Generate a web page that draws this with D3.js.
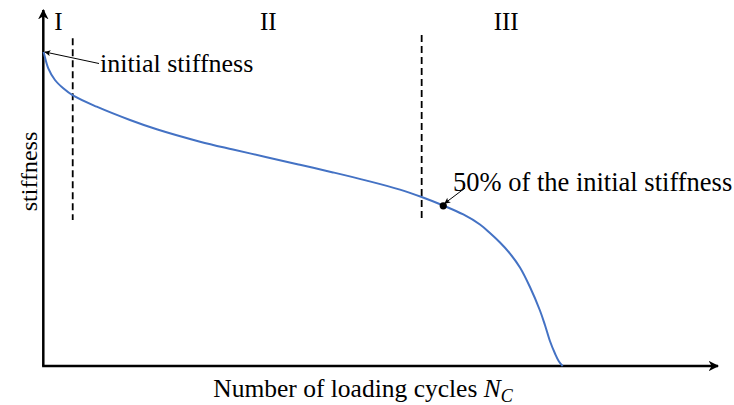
<!DOCTYPE html>
<html>
<head>
<meta charset="utf-8">
<script src="https://cdn.jsdelivr.net/npm/d3@7"></script>
<style>
  html, body { margin: 0; padding: 0; background: #fff; }
  svg { display: block; }
  text { font-family: "Liberation Serif", "DejaVu Serif", serif; fill: #000; }
</style>
</head>
<body>
<svg id="chart" width="734" height="405"></svg>
<script>
// ---- data (normalised cycles %, stiffness in arbitrary units) ----
const cycles = [0.03, 0.10, 0.74, 1.73, 2.96, 4.45, 7.91, 12.85, 16.81, 23.23, 28.12, 33.11, 38.04, 42.94, 47.93, 52.87, 56.08, 59.28, 62.25, 64.72, 66.20, 67.69, 69.17, 70.65, 72.13, 73.61, 74.35, 75.09, 75.84, 76.43, 76.98];
const stiffness = [88.20, 87.78, 83.62, 80.34, 78.01, 75.93, 72.84, 69.10, 66.49, 63.01, 60.81, 58.65, 56.52, 54.38, 52.08, 49.55, 47.47, 45.08, 42.56, 39.75, 37.36, 34.69, 31.60, 27.67, 22.19, 15.59, 11.52, 7.02, 3.51, 1.26, 0];
const phaseBounds = [4.36, 56.08];         // dashed phase boundaries (x)
const phaseBoundTop = [92.05, 93.0];       // top of the dashed lines (y)
const phaseBoundBottom = 41.0;             // bottom of dashed lines (y)
const phaseLabels = ["I", "II", "III"];
const phaseLabelX = [2.25, 33.35, 68.6];
const initialPoint = [0.03, 88.2];
const halfPoint = [59.28, 45.0];
const xTitle = "Number of loading cycles ";
const yTitle = "stiffness";

const svg = d3.select("#chart");
const x = d3.scaleLinear().domain([0, 100]).range([43.3, 718]);
const y = d3.scaleLinear().domain([0, 100]).range([366, 10]);

// markers
const defs = svg.append("defs");
defs.append("marker").attr("id", "axisArrow")
  .attr("viewBox", "0 0 10 10").attr("refX", 9).attr("refY", 5)
  .attr("markerWidth", 4.2).attr("markerHeight", 4.2).attr("markerUnits", "strokeWidth")
  .attr("orient", "auto")
  .append("path").attr("d", "M0,0 L10,5 L0,10 L3,5 Z").attr("fill", "#000");
defs.append("marker").attr("id", "thinArrow")
  .attr("viewBox", "0 0 10 10").attr("refX", 9).attr("refY", 5)
  .attr("markerWidth", 7).attr("markerHeight", 6).attr("markerUnits", "strokeWidth")
  .attr("orient", "auto")
  .append("path").attr("d", "M0,0 L10,5 L0,10 L2.5,5 Z").attr("fill", "#000");

// axes (drawn as arrowed lines)
svg.append("line")
  .attr("x1", x(0)).attr("y1", y(0)).attr("x2", x(0)).attr("y2", y(100))
  .attr("stroke", "#000").attr("stroke-width", 2.5).attr("marker-end", "url(#axisArrow)");
svg.append("line")
  .attr("x1", x(0) - 1.2).attr("y1", y(0)).attr("x2", x(100)).attr("y2", y(0))
  .attr("stroke", "#000").attr("stroke-width", 2.5).attr("marker-end", "url(#axisArrow)");

// phase boundaries
phaseBounds.forEach((b, i) => {
  svg.append("line")
    .attr("x1", x(b)).attr("x2", x(b))
    .attr("y1", y(phaseBoundTop[i])).attr("y2", y(phaseBoundBottom))
    .attr("stroke", "#000").attr("stroke-width", 1.8).attr("stroke-dasharray", "7,4");
});

// phase labels
phaseLabels.forEach((t, i) => {
  svg.append("text").attr("x", x(phaseLabelX[i])).attr("y", 29.5)
    .attr("text-anchor", "middle").attr("font-size", 25).text(t);
});

// curve
const pts = cycles.map((c, i) => [c, stiffness[i]]);
const line = d3.line().x(d => x(d[0])).y(d => y(d[1])).curve(d3.curveCatmullRom.alpha(0.5));
svg.append("path").datum(pts).attr("d", line)
  .attr("fill", "none").attr("stroke", "#4472C4").attr("stroke-width", 2);

// half-stiffness point
svg.append("circle").attr("cx", x(halfPoint[0])).attr("cy", y(halfPoint[1])).attr("r", 3.6).attr("fill", "#000");

// annotations
svg.append("line")
  .attr("x1", 99).attr("y1", 63.5)
  .attr("x2", x(initialPoint[0]) + 1.5).attr("y2", y(initialPoint[1]))
  .attr("stroke", "#000").attr("stroke-width", 1).attr("marker-end", "url(#thinArrow)");
svg.append("text").attr("x", 100).attr("y", 72).attr("font-size", 26).text("initial stiffness");

svg.append("line")
  .attr("x1", 465).attr("y1", 188)
  .attr("x2", x(halfPoint[0]) + 1.5).attr("y2", y(halfPoint[1]) - 2.5)
  .attr("stroke", "#000").attr("stroke-width", 1).attr("marker-end", "url(#thinArrow)");
svg.append("text").attr("x", 453).attr("y", 190.5).attr("font-size", 26.5).text("50% of the initial stiffness");

// axis titles
const xt = svg.append("text").attr("x", 363).attr("y", 396.5).attr("text-anchor", "middle").attr("font-size", 25.5);
xt.append("tspan").text(xTitle);
xt.append("tspan").attr("font-style", "italic").text("N");
xt.append("tspan").attr("font-style", "italic").attr("font-size", 18).attr("dy", 5).text("C");

svg.append("text")
  .attr("transform", "translate(37,171.5) rotate(-90)")
  .attr("text-anchor", "middle").attr("font-size", 24).text(yTitle);
</script>
</body>
</html>
